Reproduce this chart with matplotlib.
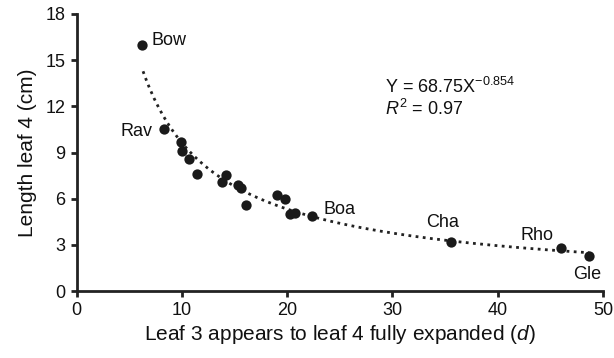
import numpy as np
import matplotlib
matplotlib.use("Agg")
import matplotlib.pyplot as plt

plt.rcParams['font.family'] = ['Liberation Sans', 'DejaVu Sans']
plt.rcParams['mathtext.fontset'] = 'custom'
plt.rcParams['mathtext.rm'] = 'Liberation Sans'
plt.rcParams['mathtext.it'] = 'Liberation Sans:italic'

# days from leaf 3 appearance to leaf 4 fully expanded
days = [6.2, 8.3, 9.9, 10.0, 10.7, 11.4, 14.2, 13.8, 15.3, 15.6, 16.1,
        19.0, 19.8, 20.3, 20.7, 22.4, 35.6, 46.0, 48.7]
# length of leaf 4 (cm)
length = [16.0, 10.5, 9.7, 9.1, 8.6, 7.6, 7.55, 7.1, 6.9, 6.7, 5.6,
          6.25, 6.0, 5.0, 5.05, 4.9, 3.2, 2.8, 2.3]

labels = ['Bow', 'Rav', 'Boa', 'Cha', 'Rho', 'Gle']
label_x = [6.2, 8.3, 22.4, 35.6, 46.0, 48.7]
label_y = [16.0, 10.5, 4.9, 3.2, 2.8, 2.3]

coef_a = 68.75
coef_b = -0.854

fig = plt.figure(figsize=(6.14, 3.58), dpi=100)
ax = fig.add_axes([0.125, 0.187, 0.857, 0.774])

# trend line
xf = np.linspace(6.3, 48.7, 200)
ax.plot(xf, coef_a * xf ** coef_b, linestyle=(0, (1, 1.6)), color='#222222',
        linewidth=2.0, zorder=2)

ax.scatter(days, length, s=55, color='#1a1a1a', zorder=3, linewidths=0)

# point labels (offsets in points, baseline aligned)
offsets = {'Bow': (7, 0, 'left'),
           'Rav': (-8, -4.8, 'right'),
           'Boa': (8, 1.5, 'left'),
           'Cha': (-6.5, 11, 'center'),
           'Rho': (-17, 6, 'center'),
           'Gle': (-1.5, -16.5, 'center')}
for name, lx, ly in zip(labels, label_x, label_y):
    dx, dy, ha = offsets[name]
    ax.annotate(name, (lx, ly), xytext=(dx, dy), textcoords='offset points',
                ha=ha, va='baseline', fontsize=13, color='#111111')

ax.text(0.586, 0.714, 'Y = 68.75X$^{\u22120.854}$', transform=ax.transAxes,
        fontsize=13, color='#111111', va='baseline')
ax.text(0.586, 0.635, r'$\mathit{R}^{2}$ = 0.97', transform=ax.transAxes,
        fontsize=13, color='#111111', va='baseline')

ax.set_xlim(0, 50)
ax.set_ylim(0, 18)
ax.set_xticks([0, 10, 20, 30, 40, 50])
ax.set_yticks([0, 3, 6, 9, 12, 15, 18])
ax.set_xlabel(r'Leaf 3 appears to leaf 4 fully expanded ($\mathit{d}$)', fontsize=15,
              color='#111111', labelpad=3)
ax.set_ylabel('Length leaf 4 (cm)', fontsize=15, color='#111111', labelpad=6)

for side in ['top', 'right']:
    ax.spines[side].set_visible(False)
for side in ['left', 'bottom']:
    ax.spines[side].set_linewidth(2.0)
    ax.spines[side].set_color('#222222')
ax.tick_params(direction='out', length=4, width=2.0, color='#222222',
               labelsize=13, labelcolor='#111111', pad=4)

fig.savefig('out.png', dpi=100)
